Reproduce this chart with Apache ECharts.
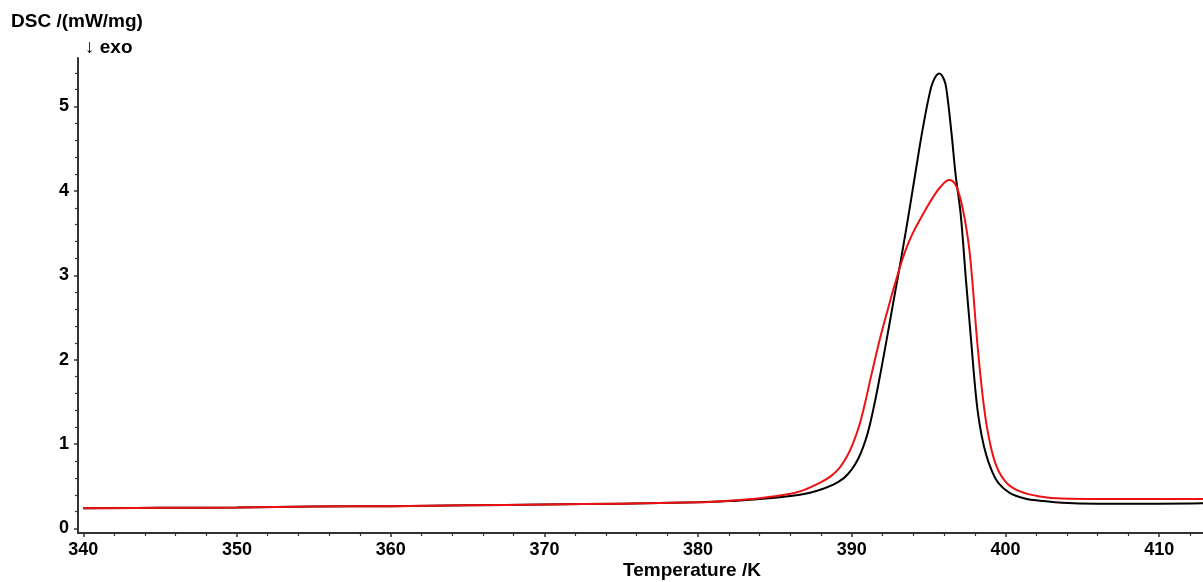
<!DOCTYPE html>
<html>
<head>
<meta charset="utf-8">
<script src="https://cdn.jsdelivr.net/npm/echarts@6/dist/echarts.min.js"></script>
<style>
html,body{margin:0;padding:0;background:#fff;}
#chart{width:1203px;height:582px;}
</style>
</head>
<body>
<div id="chart"></div>
<script>
// ---- Data ----
const blackTemp = [340, 345, 350, 355, 360, 365, 370, 375, 380, 382, 384, 385.3, 386.63, 387.7, 388.8, 389.5, 390.0, 390.4, 390.75, 391.05, 391.35, 391.7, 392.15, 392.7, 393.25, 393.77, 394.33, 394.6, 395.0, 395.3, 395.69, 396.0, 396.16, 396.49, 396.75, 397.08, 397.43, 397.8, 398.0, 398.2, 398.45, 398.75, 399.1, 399.53, 400.29, 401.38, 402.24, 403.7, 406, 410, 413];
const blackDSC  = [0.24, 0.245, 0.25, 0.26, 0.265, 0.275, 0.285, 0.295, 0.31, 0.325, 0.35, 0.37, 0.40, 0.445, 0.52, 0.60, 0.70, 0.82, 0.97, 1.14, 1.37, 1.68, 2.12, 2.68, 3.24, 3.80, 4.43, 4.72, 5.10, 5.30, 5.39, 5.32, 5.20, 4.68, 4.20, 3.73, 2.94, 2.15, 1.72, 1.38, 1.10, 0.87, 0.69, 0.54, 0.42, 0.35, 0.33, 0.305, 0.295, 0.295, 0.30];

const redTemp = [340, 345, 350, 355, 360, 365, 370, 375, 380, 382, 384, 385.3, 386.63, 388.0, 388.6, 389.2, 389.7, 390.1, 390.45, 390.8, 391.25, 391.82, 392.38, 392.81, 393.35, 393.7, 394.05, 394.45, 394.87, 395.3, 395.74, 396.34, 396.7, 397.0, 397.25, 397.45, 397.65, 397.84, 398.19, 398.6, 398.95, 399.43, 400.08, 400.94, 402.24, 403.7, 406, 410, 413];
const redDSC  = [0.24, 0.245, 0.25, 0.26, 0.265, 0.275, 0.285, 0.295, 0.31, 0.33, 0.36, 0.39, 0.44, 0.55, 0.615, 0.72, 0.86, 1.02, 1.20, 1.44, 1.80, 2.24, 2.62, 2.90, 3.22, 3.39, 3.53, 3.665, 3.80, 3.93, 4.04, 4.13, 4.09, 3.95, 3.76, 3.56, 3.30, 2.94, 2.15, 1.44, 1.05, 0.73, 0.54, 0.44, 0.38, 0.355, 0.35, 0.35, 0.35];

const xMajorTicks = [340, 350, 360, 370, 380, 390, 400, 410];
const xMinorTicks = [342, 344, 346, 348, 352, 354, 356, 358, 362, 364, 366, 368, 372, 374, 376, 378, 382, 384, 386, 388, 392, 394, 396, 398, 402, 404, 406, 408, 412];
const yMajorTicks = [0, 1, 2, 3, 4, 5];
const yMinorTicks = [0.2, 0.4, 0.6, 0.8, 1.2, 1.4, 1.6, 1.8, 2.2, 2.4, 2.6, 2.8, 3.2, 3.4, 3.6, 3.8, 4.2, 4.4, 4.6, 4.8, 5.2, 5.4];

const yTitle = 'DSC /(mW/mg)';
const ySubTitle = '\u2193 exo';
const xTitle = 'Temperature /K';

// ---- Chart ----
const pair = (xs, ys) => xs.map((x, i) => [x, ys[i]]);
const FONT = '"Liberation Sans", Arial, sans-serif';
const X_MIN = 339.655, X_MAX = 412.85, Y_MIN = -0.053, Y_MAX = 5.575;
const axisLineStyle = { color: '#333', width: 2 };

const chart = echarts.init(document.getElementById('chart'), null, { renderer: 'canvas' });
chart.setOption({
  animation: false,
  backgroundColor: '#fff',
  grid: { left: 78, right: 0, top: 58, bottom: 49, containLabel: false },
  xAxis: [
    {
      type: 'value', min: X_MIN, max: X_MAX, position: 'bottom',
      axisLine: { show: true, onZero: false, lineStyle: axisLineStyle },
      axisTick: { show: true, customValues: xMajorTicks, length: 4, lineStyle: { color: '#333', width: 1.5 } },
      axisLabel: { show: true, customValues: xMajorTicks, margin: 8, color: '#000', fontSize: 18, fontWeight: 'bold', fontFamily: FONT },
      splitLine: { show: false }
    },
    {
      type: 'value', min: X_MIN, max: X_MAX, position: 'bottom',
      axisLine: { show: false, onZero: false },
      axisTick: { show: true, customValues: xMinorTicks, length: 3, lineStyle: { color: '#333', width: 1.2 } },
      axisLabel: { show: false },
      splitLine: { show: false }
    }
  ],
  yAxis: [
    {
      type: 'value', min: Y_MIN, max: Y_MAX, position: 'left',
      axisLine: { show: true, onZero: false, lineStyle: axisLineStyle },
      axisTick: { show: true, customValues: yMajorTicks, length: 4, lineStyle: { color: '#333', width: 1.5 } },
      axisLabel: { show: true, customValues: yMajorTicks, margin: 9, color: '#000', fontSize: 18, fontWeight: 'bold', fontFamily: FONT },
      splitLine: { show: false }
    },
    {
      type: 'value', min: Y_MIN, max: Y_MAX, position: 'left',
      axisLine: { show: false, onZero: false },
      axisTick: { show: true, customValues: yMinorTicks, length: 3, lineStyle: { color: '#333', width: 1.2 } },
      axisLabel: { show: false },
      splitLine: { show: false }
    }
  ],
  graphic: [
    { type: 'text', left: 11, top: 12, style: { text: yTitle, fill: '#000', font: 'bold 19px ' + FONT } },
    { type: 'text', left: 85, top: 38, style: { text: ySubTitle, fill: '#000', font: 'bold 19px ' + FONT } },
    { type: 'text', left: 623, top: 561, style: { text: xTitle, fill: '#000', font: 'bold 19px ' + FONT } }
  ],
  series: [
    {
      name: 'black', type: 'line', xAxisIndex: 0, yAxisIndex: 0,
      data: pair(blackTemp, blackDSC), showSymbol: false,
      smooth: 0.4,
      lineStyle: { color: '#000', width: 2 }, z: 2
    },
    {
      name: 'red', type: 'line', xAxisIndex: 0, yAxisIndex: 0,
      data: pair(redTemp, redDSC), showSymbol: false,
      smooth: 0.4,
      lineStyle: { color: '#ee1111', width: 2 }, z: 3
    }
  ]
});
</script>
</body>
</html>
